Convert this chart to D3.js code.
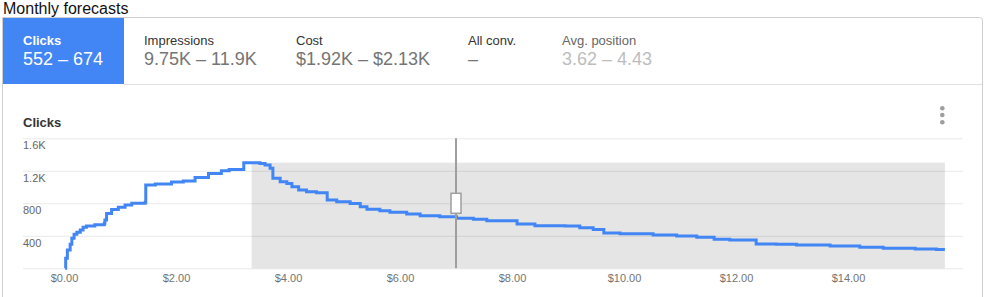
<!DOCTYPE html>
<html><head><meta charset="utf-8">
<script src="https://cdn.jsdelivr.net/npm/d3@7/dist/d3.min.js"></script>
<style>body{margin:0;background:#fff;}svg{display:block;font-family:"Liberation Sans",Arial,sans-serif;}</style>
</head><body><svg id="c" width="985" height="297"></svg>
<script>
const tabLabels = ["Clicks","Impressions","Cost","All conv.","Avg. position"];
const tabValues = ["552 – 674","9.75K – 11.9K","$1.92K – $2.13K","–","3.62 – 4.43"];
const bidCost = [0.02,0.03,0.06,0.11,0.14,0.18,0.23,0.29,0.34,0.40,0.55,0.72,0.73,0.76,0.85,0.97,1.09,1.21,1.45,1.46,1.63,1.92,2.13,2.34,2.58,2.81,2.95,3.21,3.50,3.59,3.68,3.73,3.86,3.98,4.07,4.19,4.33,4.51,4.70,4.87,5.11,5.29,5.41,5.64,5.82,6.12,6.36,6.71,7.01,7.31,7.55,8.09,8.41,8.95,9.21,9.45,9.64,9.93,10.52,10.94,11.30,11.61,11.89,12.36,12.72,13.08,13.68,14.21,14.63,15.20,15.58,15.73];
const clicks = [0,123,225,295,369,418,443,471,504,520,536,553,594,676,725,750,778,800,812,1025,1037,1061,1074,1119,1168,1200,1215,1300,1291,1271,1230,1107,1065,1045,1004,963,942,930,840,819,799,758,726,709,689,668,647,635,615,603,586,545,524,520,499,479,434,426,410,397,381,357,348,299,295,287,274,258,246,238,230,230];
const yTicks = [400,800,1200,1600];
const yTickLabels = ["400","800","1.2K","1.6K"];
const xTicks = [0,2,4,6,8,10,12,14];
const bandRange = [3.35,15.73];
const bandTop = 1300;
const selectedBid = 7.00;

const svg = d3.select("#c");
// title
svg.append("text").attr("x",3).attr("y",14).attr("font-size",16).attr("fill","#111").text("Monthly forecasts");
// panel
svg.append("path").attr("d","M2.5,297 V17.5 H979.5 Q982.5,17.5 982.5,20.5 V297").attr("fill","none").attr("stroke","#cfcfcf");
svg.append("rect").attr("x",3).attr("y",18).attr("width",121).attr("height",66).attr("fill","#4285f4");
svg.append("line").attr("x1",124).attr("x2",982).attr("y1",84.5).attr("y2",84.5).attr("stroke","#e0e0e0");
const tabX = [23,144,296,468,562];
const labelCol = ["#fff","#333","#333","#333","#666"];
const valCol = ["#fff","#757575","#757575","#757575","#bdbdbd"];
tabLabels.forEach((t,i)=>{
  svg.append("text").attr("x",tabX[i]).attr("y",45).attr("font-size",13).attr("fill",labelCol[i]).attr("font-weight", i===0?"600":"normal").text(t);
  svg.append("text").attr("x",tabX[i]).attr("y",65).attr("font-size",18).attr("fill",valCol[i]).text(tabValues[i]);
});
// chart title
svg.append("text").attr("x",23).attr("y",127).attr("font-size",13).attr("font-weight","bold").attr("fill","#333").text("Clicks");
// kebab
[108.3,115,122.3].forEach(cy=>svg.append("circle").attr("cx",942.3).attr("cy",cy).attr("r",2.3).attr("fill","#9e9e9e"));

const x = d3.scaleLinear().domain([0,16]).range([64,960]);
const y = d3.scaleLinear().domain([0,1600]).range([268.3,138.3]);

// band
svg.append("rect").attr("x",x(bandRange[0])).attr("y",y(bandTop)).attr("width",x(bandRange[1])-x(bandRange[0])).attr("height",y(0)-y(bandTop)).attr("fill","#e5e5e5");

// gridlines
const yAxis = d3.axisLeft(y).tickValues([0].concat(yTicks)).tickSize(-(963-23)).tickFormat("");
const gy = svg.append("g").attr("transform","translate(23,0)").call(yAxis);
gy.select(".domain").remove();
gy.selectAll("line").attr("stroke","rgba(0,0,0,0.09)");
yTicks.forEach((v,i)=>{
  svg.append("text").attr("x",23).attr("y",y(v)+11).attr("font-size",11).attr("fill","#666").text(yTickLabels[i]);
});
// x axis
const xAxis = d3.axisBottom(x).tickValues(xTicks).tickSize(0).tickPadding(0).tickFormat(d=>"$"+d.toFixed(2));
const gx = svg.append("g").attr("transform","translate(0,"+(281.7-8.5)+")").call(xAxis);
gx.select(".domain").remove();
gx.selectAll("text").attr("font-size",11).attr("fill","#737373").attr("font-family","Liberation Sans, Arial, sans-serif").attr("dy","0.71em").attr("y",0);
gx.selectAll("text").attr("dy",null).attr("y",8.5);

// line
const pts = bidCost.map((c,i)=>[c,clicks[i]]);
svg.append("path").datum(pts)
  .attr("d",d3.line().x(d=>x(d[0])).y(d=>y(d[1])).curve(d3.curveStepAfter))
  .attr("fill","none").attr("stroke","#4285f4").attr("stroke-width",3).attr("stroke-linejoin","miter");

// selector
svg.append("line").attr("x1",x(selectedBid)).attr("x2",x(selectedBid)).attr("y1",y(1600)).attr("y2",y(0)).attr("stroke","#9e9e9e").attr("stroke-width",2);
svg.append("rect").attr("x",x(selectedBid)-5).attr("y",y(800)-10).attr("width",10).attr("height",20).attr("fill","#fff").attr("stroke","#9e9e9e").attr("stroke-width",1.5);
</script></body></html>
